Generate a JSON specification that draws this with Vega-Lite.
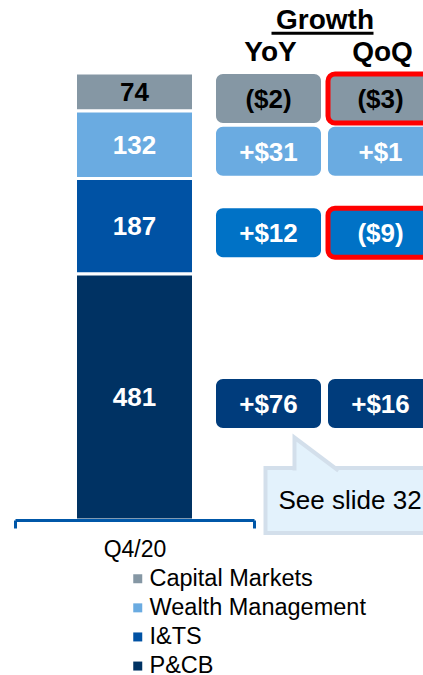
{
  "$schema": "https://vega.github.io/schema/vega-lite/v6.json",
  "width": 423,
  "height": 520,
  "autosize": "none",
  "padding": {"left": 0, "top": 0, "right": 0, "bottom": 155},
  "config": {
    "font": "Liberation Sans",
    "view": {"stroke": null}
  },
  "data": {
    "values": [
      {"quarter": "Q4/20", "segment": "Capital Markets", "value": 74, "YoY": -2, "QoQ": -3, "note": null},
      {"quarter": "Q4/20", "segment": "Wealth Management", "value": 132, "YoY": 31, "QoQ": 1, "note": null},
      {"quarter": "Q4/20", "segment": "I&TS", "value": 187, "YoY": 12, "QoQ": -9, "note": null},
      {"quarter": "Q4/20", "segment": "P&CB", "value": 481, "YoY": 76, "QoQ": 16, "note": "See slide 32"}
    ]
  },
  "transform": [
    {"calculate": "indexof(['P&CB','I&TS','Wealth Management','Capital Markets'], datum.segment)", "as": "rank"},
    {"stack": "value", "groupby": [], "sort": [{"field": "rank", "order": "ascending"}], "as": ["v0", "v1"]},
    {"calculate": "(datum.v0 + datum.v1) / 2", "as": "mid"}
  ],
  "resolve": {"scale": {"x": "independent"}, "axis": {"x": "independent"}},
  "layer": [
    {
      "encoding": {
        "x": {
          "field": "quarter", "type": "nominal",
          "scale": {"type": "band", "range": [15, 254], "paddingInner": 0, "paddingOuter": 0},
          "axis": {
            "orient": "bottom", "title": null, "zindex": 1,
            "domainColor": "#0057a8", "domainWidth": 3,
            "tickBand": "extent", "tickColor": "#0057a8", "tickWidth": 3, "tickSize": 8,
            "labelFontSize": 23, "labelColor": "#000000", "labelPadding": 10, "labelAngle": 0
          }
        },
        "y": {"field": "v0", "type": "quantitative", "scale": {"domain": [0, 1017], "nice": false}, "axis": null}
      },
      "layer": [
        {
          "mark": {"type": "bar", "width": 118, "stroke": "#ffffff", "strokeWidth": 3},
          "encoding": {
            "y2": {"field": "v1"},
            "color": {
              "field": "segment", "type": "nominal",
              "scale": {
                "domain": ["Capital Markets", "Wealth Management", "I&TS", "P&CB"],
                "range": ["#8597a4", "#6aabe1", "#0052a4", "#003263"]
              },
              "legend": {
                "orient": "none", "legendX": 126, "legendY": 567, "title": null,
                "symbolType": "square", "symbolSize": 81, "symbolStrokeWidth": 0,
                "labelFontSize": 23.5, "labelColor": "#000000", "labelOffset": 0, "labelLimit": 400,
                "rowPadding": 4.1, "padding": 0
              }
            }
          }
        },
        {
          "mark": {"type": "text", "fontSize": 26, "fontWeight": "bold", "baseline": "middle", "dy": 1},
          "encoding": {
            "y": {"field": "mid", "type": "quantitative"},
            "text": {"field": "value"},
            "color": {"condition": {"test": "datum.segment === 'Capital Markets'", "value": "#000000"}, "value": "#ffffff"}
          }
        }
      ]
    },
    {
      "transform": [
        {"fold": ["YoY", "QoQ"], "as": ["period", "change"]},
        {"calculate": "datum.change < 0 ? '($' + abs(datum.change) + ')' : '+$' + datum.change", "as": "label"}
      ],
      "encoding": {
        "x": {
          "field": "period", "type": "nominal",
          "scale": {"type": "band", "domain": ["YoY", "QoQ"], "range": [216, 433], "paddingInner": 0.0625, "paddingOuter": 0},
          "axis": {
            "orient": "top", "offset": -68, "domain": false, "ticks": false, "tickSize": 0,
            "labelFontSize": 28, "labelFontWeight": "bold", "labelColor": "#000000", "labelPadding": 2, "labelAngle": 0, "labelOffset": 2,
            "title": "Growth", "titleFontSize": 28, "titleFontWeight": "bold", "titleColor": "#000000", "titlePadding": 4
          }
        },
        "y": {"field": "mid", "type": "quantitative"}
      },
      "layer": [
        {
          "mark": {"type": "rect", "cornerRadius": 7, "yOffset": -18, "y2Offset": 31},
          "encoding": {
            "y2": {"field": "mid"},
            "fill": {
              "field": "segment", "type": "nominal",
              "scale": {
                "domain": ["Capital Markets", "Wealth Management", "I&TS", "P&CB"],
                "range": ["#8597a4", "#6aabe1", "#0072c6", "#003c7c"]
              },
              "legend": null
            },
            "stroke": {"condition": {"test": "datum.period === 'QoQ' && datum.change < 0", "value": "#ff0000"}, "value": "transparent"},
            "strokeWidth": {"condition": {"test": "datum.period === 'QoQ' && datum.change < 0", "value": 5}, "value": 0}
          }
        },
        {
          "mark": {"type": "text", "fontSize": 26, "fontWeight": "bold", "baseline": "middle", "dy": 8},
          "encoding": {
            "text": {"field": "label"},
            "color": {"condition": {"test": "datum.segment === 'Capital Markets'", "value": "#000000"}, "value": "#ffffff"}
          }
        },
        {
          "transform": [{"filter": "datum.rank === 0 && datum.period === 'YoY'"}],
          "mark": {"type": "rule", "color": "#000000", "strokeWidth": 3, "xOffset": 3, "x2Offset": -7},
          "encoding": {
            "x": {"datum": "YoY"},
            "x2": {"datum": "QoQ"},
            "y": {"datum": 952}
          }
        },
        {
          "transform": [{"filter": "datum.note && datum.period === 'YoY'"}],
          "layer": [
            {
              "mark": {"type": "rect", "width": 180, "xOffset": 87, "yOffset": 71, "y2Offset": 136, "fill": "#e3f2fc", "stroke": "#d3dfeb", "strokeWidth": 4},
              "encoding": {"y2": {"field": "mid"}}
            },
            {
              "mark": {"type": "point", "shape": "M 1 0.75 L -1 -0.75 L -1 0.75", "size": 1936, "filled": true, "opacity": 1, "fill": "#e3f2fc", "stroke": "#d3dfeb", "strokeWidth": 4, "xOffset": 48, "yOffset": 57},
              "encoding": {}
            },
            {
              "mark": {"type": "text", "fontSize": 26, "align": "left", "baseline": "middle", "dx": 10, "dy": 104, "color": "#000000"},
              "encoding": {"text": {"field": "note"}}
            }
          ]
        }
      ]
    }
  ]
}
